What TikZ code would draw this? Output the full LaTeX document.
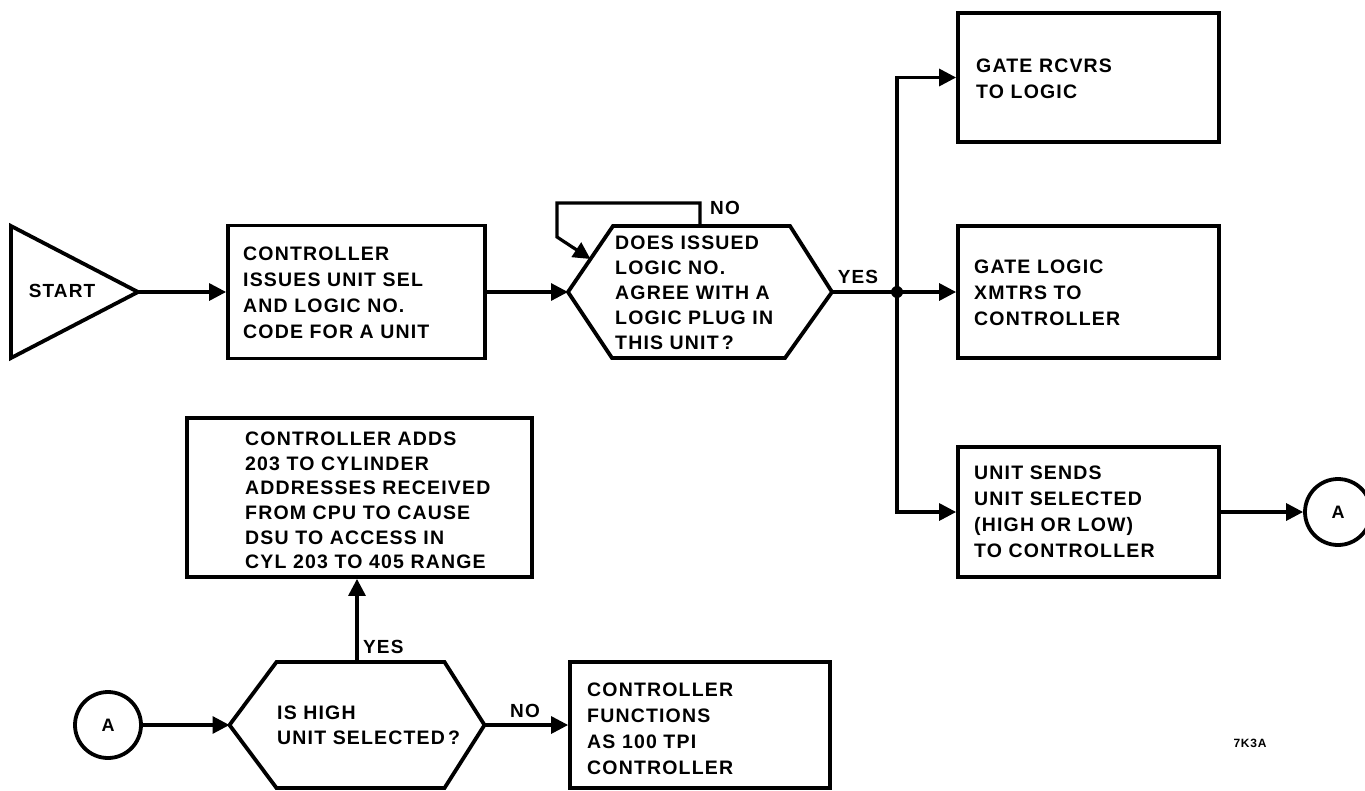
\documentclass[tikz,border=0pt]{standalone}
\usepackage{fontspec}
\setmainfont{Liberation Sans}[LetterSpace=6]
\usetikzlibrary{arrows.meta,calc}
\begin{document}
\begin{tikzpicture}[x=1pt,y=-1pt,
  lw/.style={line width=3.8pt},
  box/.style={draw,lw,inner sep=0pt},
  ghost/.style={inner sep=0pt,outer sep=0pt},
  txt/.style={anchor=west,align=left,inner sep=0pt,font=\bfseries\fontsize{19.5}{26}\selectfont},
  lbl/.style={inner sep=0pt,font=\bfseries\fontsize{19}{22}\selectfont},
  conn/.style={line width=3.2pt,-{Triangle[length=17pt,width=17pt]}},
  plain/.style={line width=3.2pt},
  conncirc/.style={draw,circle,lw,minimum size=66pt,inner sep=0pt,font=\bfseries\fontsize{18}{20}\selectfont}]
\useasboundingbox (0,0) rectangle (1365,790);

% START triangle
\node[ghost,minimum width=127pt,minimum height=132pt] (start) at (74.5,292) {};
\draw[lw,line join=miter] (start.north west) -- (start.east) -- (start.south west) -- cycle;
\node[lbl] (starttxt) at (62,291) {START};

% controller box
\node[box,minimum width=257pt,minimum height=133pt] (ctrl) at (356.5,292) {};
\node[txt] (ctrltxt) at (243,292.5) {CONTROLLER\\ISSUES UNIT SEL\\AND LOGIC NO.\\CODE FOR A UNIT};

% decision 1
\node[ghost,minimum width=264pt,minimum height=132pt] (h1) at (700,292) {};
\draw[lw] (h1.west) -- ([xshift=45pt]h1.north west) -- ([xshift=-42pt]h1.north east) -- (h1.east)
  -- ([xshift=-47pt]h1.south east) -- ([xshift=44pt]h1.south west) -- cycle;
\node[txt,font=\bfseries\fontsize{19.5}{25}\selectfont] (h1txt) at (615,293) {DOES ISSUED\\LOGIC NO.\\AGREE WITH A\\LOGIC PLUG IN\\THIS UNIT\,?};
\coordinate (h1e) at ($(h1.west)!0.5!([xshift=45pt]h1.north west)$);

% right column boxes
\node[box,minimum width=261pt,minimum height=129pt] (g1) at (1088.5,77.5) {};
\node[txt] (g1txt) at (976,79) {GATE RCVRS\\TO LOGIC};
\node[box,minimum width=261pt,minimum height=132pt] (g2) at (1088.5,292) {};
\node[txt] (g2txt) at (974,293) {GATE LOGIC\\XMTRS TO\\CONTROLLER};
\node[box,minimum width=261pt,minimum height=130pt] (g3) at (1088.5,512) {};
\node[txt] (g3txt) at (974,512) {UNIT SENDS\\UNIT SELECTED\\(HIGH OR LOW)\\TO CONTROLLER};
\node[conncirc] (ar) at (1338,512) {A};

% junction
\node[circle,fill,inner sep=0pt,minimum size=12pt] (j) at (897,292) {};

% bottom row
\node[conncirc] (al) at (108,725) {A};
\node[ghost,minimum width=255pt,minimum height=126pt] (h2) at (357,725) {};
\draw[lw] (h2.west) -- ([xshift=47pt]h2.north west) -- ([xshift=-40pt]h2.north east) -- (h2.east)
  -- ([xshift=-40pt]h2.south east) -- ([xshift=47pt]h2.south west) -- cycle;
\node[txt,font=\bfseries\fontsize{19.5}{25}\selectfont] (h2txt) at (277,725.5) {IS HIGH\\UNIT SELECTED\,?};

\node[box,minimum width=345pt,minimum height=159pt] (cyl) at (359.5,497.5) {};
\node[txt,font=\bfseries\fontsize{19.5}{24.6}\selectfont] (cyltxt) at (245,500.5) {CONTROLLER ADDS\\203 TO CYLINDER\\ADDRESSES RECEIVED\\FROM CPU TO CAUSE\\DSU TO ACCESS IN\\CYL 203 TO 405 RANGE};

\node[box,minimum width=260pt,minimum height=126pt] (c100) at (700,725) {};
\node[txt] (c100txt) at (587,729) {CONTROLLER\\FUNCTIONS\\AS 100 TPI\\CONTROLLER};

\node[inner sep=0pt,font=\bfseries\fontsize{12}{14}\selectfont] (code) at (1250,743) {7K3A};

% connectors
\draw[conn] (start.east) -- (ctrl.west);
\draw[conn] (ctrl.east) -- (h1.west);
\draw[conn] (h1.north) |- (557,203) -- (557,237) -- (h1e);
\node[lbl] (nolbl1) at (725,208) {NO};
\draw[plain] (h1.east) -- (j.center);
\node[lbl] (yeslbl1) at (858,277) {YES};
\draw[conn] (j.center) |- (g1.west);
\draw[conn] (j.center) -- (g2.west);
\draw[conn] (j.center) |- (g3.west);
\draw[conn] (g3.east) -- (ar.west);

\draw[conn] (al.east) -- (h2.west);
\draw[conn] (h2.north) -- (h2.north |- cyl.south);
\node[lbl,anchor=west] (yeslbl2) at (363,647) {YES};
\draw[conn] (h2.east) -- (c100.west);
\node[lbl] (nolbl2) at (525,711) {NO};
\end{tikzpicture}
\end{document}
